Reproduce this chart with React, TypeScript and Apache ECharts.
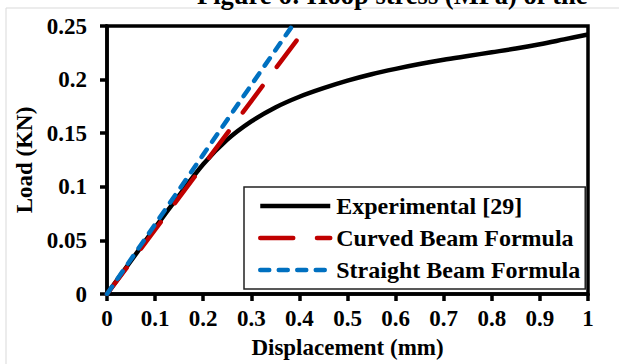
import React, { useEffect, useRef } from "react";
import * as echarts from "echarts";

// Displacement (mm) vs load (KN)
const experimentalX = [0, 0.05, 0.1, 0.15, 0.2, 0.25, 0.3, 0.35, 0.4, 0.45, 0.5, 0.55, 0.6, 0.65, 0.7, 0.75, 0.8, 0.85, 0.9, 0.95, 1.0];
const experimentalY = [0, 0.031, 0.062, 0.092, 0.121, 0.144, 0.161, 0.174, 0.184, 0.192, 0.199, 0.205, 0.21, 0.2145, 0.2185, 0.222, 0.2255, 0.229, 0.233, 0.2375, 0.242];

const curvedX = [0, 0.1, 0.2, 0.3, 0.395];
const curvedY = [0, 0.06, 0.12, 0.18, 0.237];

const straightX = [0, 0.1, 0.2, 0.3, 0.385];
const straightY = [0, 0.065, 0.13, 0.195, 0.25];

const seriesNames = ["Experimental [29]", "Curved Beam Formula", "Straight Beam Formula"];
const xTicks = { min: 0, max: 1, interval: 0.1 };
const yTicks = { min: 0, max: 0.25, interval: 0.05 };

const FONT = "'Liberation Serif', 'Times New Roman', serif";

const pairs = (xs: number[], ys: number[]) => xs.map((x, i) => [x, ys[i]]);

export default function App() {
  const ref = useRef<HTMLDivElement>(null);

  useEffect(() => {
    if (!ref.current) return;
    const chart = echarts.init(ref.current, undefined, { renderer: "svg" });
    const labelStyle = { color: "#000", fontFamily: FONT, fontWeight: "bold" as const, fontSize: 23 };
    const axisCommon = {
      axisLine: { show: true, lineStyle: { color: "#000", width: 3.5 } },
      axisTick: { show: true, inside: false, length: 7, lineStyle: { color: "#000", width: 3.5 } },
      splitLine: { show: false },
      nameLocation: "middle" as const,
      nameTextStyle: labelStyle,
    };
    chart.setOption({
      animation: false,
      backgroundColor: "#fff",
      graphic: [
        {
          type: "rect",
          shape: { x: 6, y: 8, width: 700, height: 400 },
          style: { fill: "none", stroke: "#d9d9d9", lineWidth: 1 },
          silent: true,
        },
        {
          type: "text",
          x: 197,
          y: 8,
          style: {
            text: "Figure 6: Hoop stress (MPa) of the",
            font: `bold 26.5px ${FONT}`,
            fill: "#000",
            verticalAlign: "bottom",
          },
        },
      ],
      grid: {
        left: 107,
        right: 31,
        top: 26,
        bottom: 70,
        show: true,
        borderColor: "#000",
        borderWidth: 3.5,
        containLabel: false,
      },
      legend: {
        data: seriesNames,
        orient: "vertical",
        left: 244,
        top: 187,
        itemWidth: 70,
        itemHeight: 20,
        itemGap: 8,
        padding: [7, 5, 7, 14],
        borderColor: "#222",
        borderWidth: 1.5,
        backgroundColor: "#fff",
        itemStyle: { opacity: 0, borderWidth: 0 },
        lineStyle: { width: 4.5 },
        textStyle: { ...labelStyle, fontSize: 24, padding: [0, 0, 0, 1] },
      },
      xAxis: {
        type: "value",
        ...xTicks,
        ...axisCommon,
        name: "Displacement (mm)",
        nameGap: 42,
        axisLabel: { ...labelStyle, margin: 13 },
      },
      yAxis: {
        type: "value",
        ...yTicks,
        ...axisCommon,
        name: "Load (KN)",
        nameGap: 70,
        axisLabel: { ...labelStyle, margin: 20 },
      },
      series: [
        {
          name: seriesNames[0],
          type: "line",
          data: pairs(experimentalX, experimentalY),
          smooth: 0.3,
          showSymbol: false,
          lineStyle: { color: "#000", width: 4.5 },
          itemStyle: { color: "#000" },
          z: 3,
        },
        {
          name: seriesNames[1],
          type: "line",
          data: pairs(curvedX, curvedY),
          showSymbol: false,
          lineStyle: { color: "#C00000", width: 4.5, type: [33, 23.7], cap: "round" },
          itemStyle: { color: "#C00000" },
          z: 4,
        },
        {
          name: seriesNames[2],
          type: "line",
          data: pairs(straightX, straightY),
          showSymbol: false,
          lineStyle: { color: "#0070C0", width: 4.5, type: [9, 9.5], cap: "round" },
          itemStyle: { color: "#0070C0" },
          z: 5,
        },
      ],
    });
    return () => chart.dispose();
  }, []);

  return (
    <div
      ref={ref}
      style={{ position: "fixed", left: 0, top: 0, width: 619, height: 364 }}
    />
  );
}
